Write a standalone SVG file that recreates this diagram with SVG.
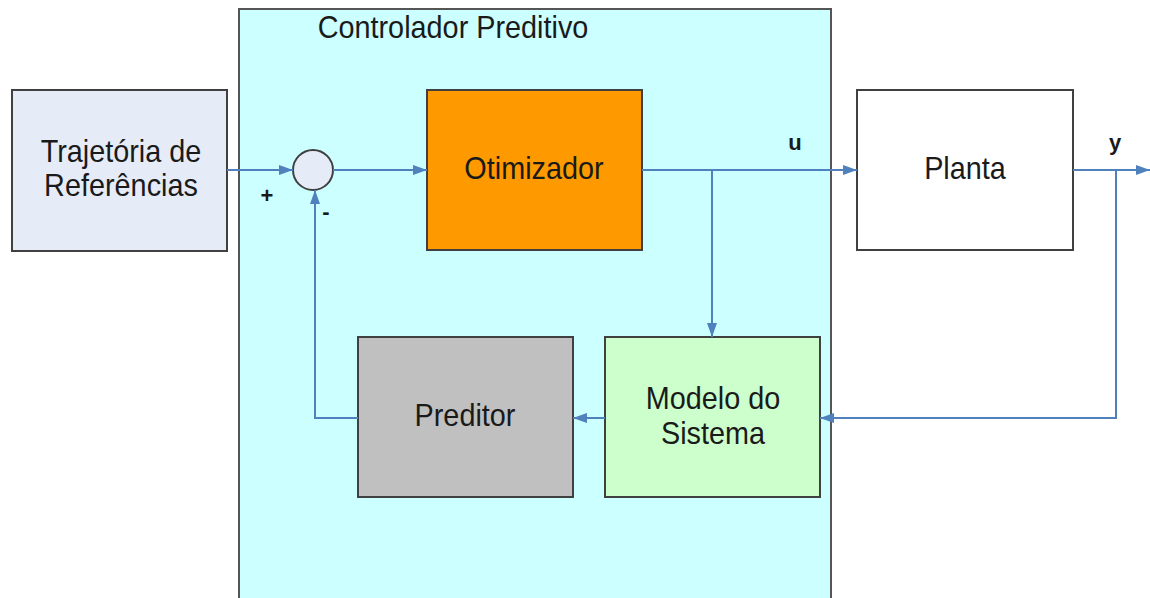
<svg xmlns="http://www.w3.org/2000/svg" width="1150" height="598" viewBox="0 0 1150 598">
<style>
.box{stroke:#404040;stroke-width:2}
.t{font-family:"Liberation Sans",Arial,sans-serif;font-size:31px;fill:#1a1a1a;text-anchor:middle}
.b{font-family:"Liberation Sans",Arial,sans-serif;font-size:22px;font-weight:bold;fill:#1a1a1a;text-anchor:middle}
.c{fill:none;stroke:#4f81bd;stroke-width:2}
</style>
<defs>
<marker id="ah" viewBox="0 0 14 10" refX="14" refY="5" markerWidth="14" markerHeight="10" markerUnits="userSpaceOnUse" orient="auto">
<path d="M0,0 L14,5 L0,10 Z" fill="#4f81bd"/>
</marker>
</defs>
<rect width="1150" height="598" fill="#ffffff"/>
<g id="controlador">
<rect x="239" y="9" width="592" height="600" fill="#ccffff" stroke="#555" stroke-width="2"/>
<text class="t" transform="translate(453,38) scale(0.93,1)">Controlador Preditivo</text>
</g>
<g id="trajetoria">
<rect class="box" x="12" y="90" width="215" height="161" fill="#e6ecf7"/>
<text class="t" transform="translate(121,162) scale(0.93,1)">Trajetória de</text>
<text class="t" transform="translate(121,196) scale(0.93,1)">Referências</text>
</g>
<g id="somador">
<circle cx="313" cy="170" r="20" fill="#e6ecf7" stroke="#404040" stroke-width="2"/>
</g>
<g id="otimizador">
<rect class="box" x="427" y="90" width="215" height="160" fill="#ff9900"/>
<text class="t" transform="translate(534,179) scale(0.93,1)">Otimizador</text>
</g>
<g id="planta">
<rect class="box" x="857" y="90" width="216" height="160" fill="#ffffff"/>
<text class="t" transform="translate(965,179) scale(0.93,1)">Planta</text>
</g>
<g id="preditor">
<rect class="box" x="358" y="337" width="215" height="160" fill="#c0c0c0"/>
<text class="t" transform="translate(465,426) scale(0.93,1)">Preditor</text>
</g>
<g id="modelo">
<rect class="box" x="605" y="337" width="215" height="160" fill="#ccffcc"/>
<text class="t" transform="translate(713,409) scale(0.93,1)">Modelo do</text>
<text class="t" transform="translate(713,444) scale(0.93,1)">Sistema</text>
</g>
<g id="connectors">
<line class="c" x1="227" y1="170" x2="293" y2="170" marker-end="url(#ah)"/>
<line class="c" x1="333" y1="170" x2="427" y2="170" marker-end="url(#ah)"/>
<line class="c" x1="642" y1="170" x2="857" y2="170" marker-end="url(#ah)"/>
<line class="c" x1="712" y1="170" x2="712" y2="337" marker-end="url(#ah)"/>
<line class="c" x1="1073" y1="170" x2="1150" y2="170" marker-end="url(#ah)"/>
<polyline class="c" points="1116,170 1116,418 820,418" marker-end="url(#ah)"/>
<line class="c" x1="605" y1="418" x2="573" y2="418" marker-end="url(#ah)"/>
<polyline class="c" points="358,418 315,418 315,190" marker-end="url(#ah)"/>
<text class="b" x="795" y="150">u</text>
<text class="b" x="1115" y="150">y</text>
<text class="b" x="267" y="203">+</text>
<text class="b" x="326" y="219">-</text>
</g>
</svg>
